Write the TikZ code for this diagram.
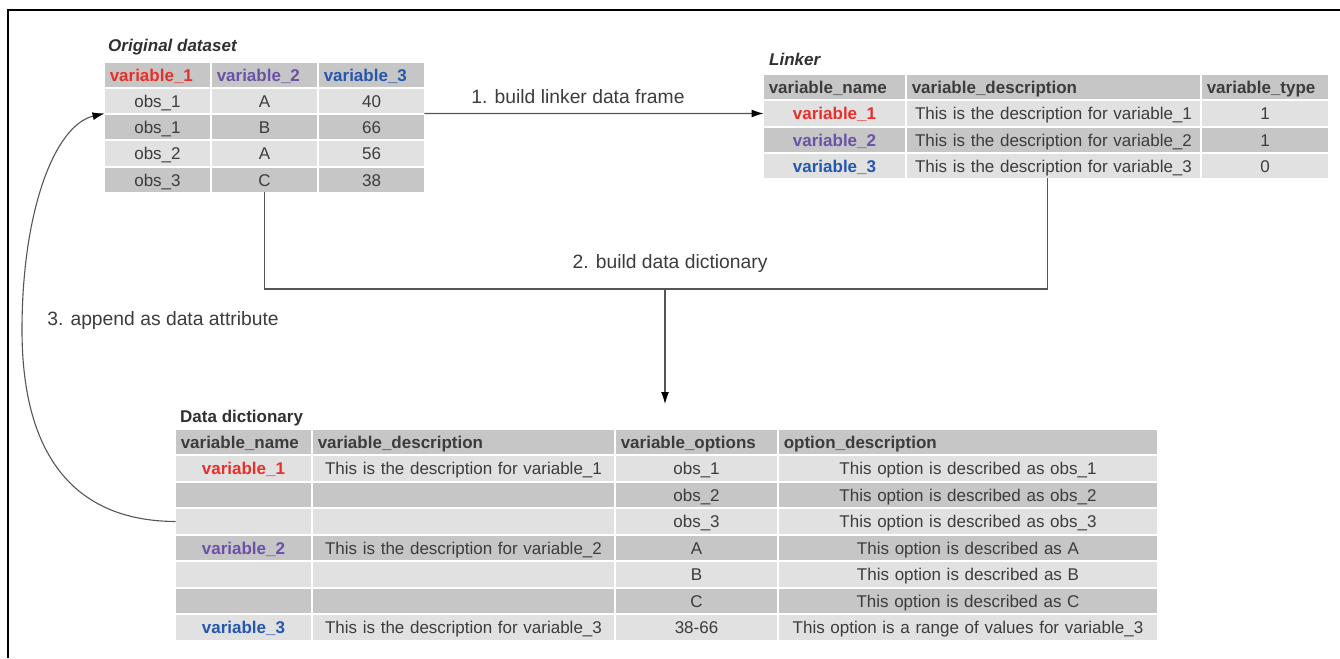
\documentclass[tikz,border=0pt]{standalone}
\usepackage{fontspec}
\setmainfont{Liberation Sans}
\usetikzlibrary{arrows.meta,calc}
\definecolor{lightc}{HTML}{E1E1E1}
\definecolor{darkc}{HTML}{C6C6C6}
\definecolor{txt}{HTML}{3C3C3C}
\definecolor{vone}{HTML}{E8302A}
\definecolor{vtwo}{HTML}{6B52A8}
\definecolor{vthree}{HTML}{2457AE}
\definecolor{linec}{HTML}{555555}
\newcommand\tc[8]{\pgfmathsetmacro\tcw{#3-#2-11.5}\pgfmathsetmacro\tch{#5-#4-1.5}%
\node[tcell,fill=#6,align=#7,text width=\tcw pt,minimum height=\tch pt] (#1) at ({(#2+#3)/2},{(#4+#5)/2}) {#8};}
\newcommand\hb[1]{\bfseries #1}
\begin{document}
\begin{tikzpicture}[x=1pt,y=-1pt,
  tcell/.style={inner xsep=5pt,inner ysep=0pt,font=\fontsize{17}{20}\selectfont,text=txt,text height=12.2pt,text depth=0pt},
  ttl/.style={inner sep=0pt,anchor=base west,font=\fontsize{17}{20}\selectfont\bfseries,text=txt!80!black},
  lbl/.style={inner sep=0pt,anchor=base,font=\fontsize{19.3}{22}\selectfont,text=txt},
  conn/.style={draw=linec,line width=1.1pt},
  arr/.style={conn,-{Latex[length=12pt,width=8pt,black]}}]
\useasboundingbox (0,0) rectangle (1340,658);
\draw[line width=2pt] (8,658) -- (8,10) -- (1340,10);

% Original dataset
\node[ttl] (Ot) at (108,52) {\itshape Original dataset};
\tc{O-0-1}{104}{211}{62}{88}{darkc}{left}{\hb{\color{vone}variable\_1}}
\tc{O-0-2}{211}{318}{62}{88}{darkc}{left}{\hb{\color{vtwo}variable\_2}}
\tc{O-0-3}{318}{425}{62}{88}{darkc}{left}{\hb{\color{vthree}variable\_3}}
\tc{O-1-1}{104}{211}{88}{114}{lightc}{center}{obs\_1}
\tc{O-1-2}{211}{318}{88}{114}{lightc}{center}{A}
\tc{O-1-3}{318}{425}{88}{114}{lightc}{center}{40}
\tc{O-2-1}{104}{211}{114}{140}{darkc}{center}{obs\_1}
\tc{O-2-2}{211}{318}{114}{140}{darkc}{center}{B}
\tc{O-2-3}{318}{425}{114}{140}{darkc}{center}{66}
\tc{O-3-1}{104}{211}{140}{167}{lightc}{center}{obs\_2}
\tc{O-3-2}{211}{318}{140}{167}{lightc}{center}{A}
\tc{O-3-3}{318}{425}{140}{167}{lightc}{center}{56}
\tc{O-4-1}{104}{211}{167}{193}{darkc}{center}{obs\_3}
\tc{O-4-2}{211}{318}{167}{193}{darkc}{center}{C}
\tc{O-4-3}{318}{425}{167}{193}{darkc}{center}{38}

% Linker
\node[ttl] (Lt) at (769,66) {\itshape Linker};
\tc{L-0-1}{763}{906}{74}{100}{darkc}{left}{\hb{variable\_name}}
\tc{L-0-2}{906}{1201}{74}{100}{darkc}{left}{\hb{variable\_description}}
\tc{L-0-3}{1201}{1329}{74}{100}{darkc}{left}{\hb{variable\_type}}
\tc{L-1-1}{763}{906}{100}{127}{lightc}{center}{\hb{\color{vone}variable\_1}}
\tc{L-1-2}{906}{1201}{100}{127}{lightc}{center}{This is the description for variable\_1}
\tc{L-1-3}{1201}{1329}{100}{127}{lightc}{center}{1}
\tc{L-2-1}{763}{906}{127}{153}{darkc}{center}{\hb{\color{vtwo}variable\_2}}
\tc{L-2-2}{906}{1201}{127}{153}{darkc}{center}{This is the description for variable\_2}
\tc{L-2-3}{1201}{1329}{127}{153}{darkc}{center}{1}
\tc{L-3-1}{763}{906}{153}{179}{lightc}{center}{\hb{\color{vthree}variable\_3}}
\tc{L-3-2}{906}{1201}{153}{179}{lightc}{center}{This is the description for variable\_3}
\tc{L-3-3}{1201}{1329}{153}{179}{lightc}{center}{0}

% Data dictionary
\node[ttl] (Dt) at (180,422) {Data dictionary};
\tc{D-0-1}{175}{312}{429}{455}{darkc}{left}{\hb{variable\_name}}
\tc{D-0-2}{312}{615}{429}{455}{darkc}{left}{\hb{variable\_description}}
\tc{D-0-3}{615}{778}{429}{455}{darkc}{left}{\hb{variable\_options}}
\tc{D-0-4}{778}{1158}{429}{455}{darkc}{left}{\hb{option\_description}}
\tc{D-1-1}{175}{312}{455}{482}{lightc}{center}{\hb{\color{vone}variable\_1}}
\tc{D-1-2}{312}{615}{455}{482}{lightc}{center}{This is the description for variable\_1}
\tc{D-1-3}{615}{778}{455}{482}{lightc}{center}{obs\_1}
\tc{D-1-4}{778}{1158}{455}{482}{lightc}{center}{This option is described as obs\_1}
\tc{D-2-1}{175}{312}{482}{508}{darkc}{center}{}
\tc{D-2-2}{312}{615}{482}{508}{darkc}{center}{}
\tc{D-2-3}{615}{778}{482}{508}{darkc}{center}{obs\_2}
\tc{D-2-4}{778}{1158}{482}{508}{darkc}{center}{This option is described as obs\_2}
\tc{D-3-1}{175}{312}{508}{535}{lightc}{center}{}
\tc{D-3-2}{312}{615}{508}{535}{lightc}{center}{}
\tc{D-3-3}{615}{778}{508}{535}{lightc}{center}{obs\_3}
\tc{D-3-4}{778}{1158}{508}{535}{lightc}{center}{This option is described as obs\_3}
\tc{D-4-1}{175}{312}{535}{561}{darkc}{center}{\hb{\color{vtwo}variable\_2}}
\tc{D-4-2}{312}{615}{535}{561}{darkc}{center}{This is the description for variable\_2}
\tc{D-4-3}{615}{778}{535}{561}{darkc}{center}{A}
\tc{D-4-4}{778}{1158}{535}{561}{darkc}{center}{This option is described as A}
\tc{D-5-1}{175}{312}{561}{588}{lightc}{center}{}
\tc{D-5-2}{312}{615}{561}{588}{lightc}{center}{}
\tc{D-5-3}{615}{778}{561}{588}{lightc}{center}{B}
\tc{D-5-4}{778}{1158}{561}{588}{lightc}{center}{This option is described as B}
\tc{D-6-1}{175}{312}{588}{614}{darkc}{center}{}
\tc{D-6-2}{312}{615}{588}{614}{darkc}{center}{}
\tc{D-6-3}{615}{778}{588}{614}{darkc}{center}{C}
\tc{D-6-4}{778}{1158}{588}{614}{darkc}{center}{This option is described as C}
\tc{D-7-1}{175}{312}{614}{641}{lightc}{center}{\hb{\color{vthree}variable\_3}}
\tc{D-7-2}{312}{615}{614}{641}{lightc}{center}{This is the description for variable\_3}
\tc{D-7-3}{615}{778}{614}{641}{lightc}{center}{38-66}
\tc{D-7-4}{778}{1158}{614}{641}{lightc}{center}{This option is a range of values for variable\_3}

% connectors
\draw[arr] (O-1-3.south east) -- (L-1-1.west);
\node[lbl] (l1) at (578,104) {1. build linker data frame};

\coordinate (j) at (665,289);
\coordinate (dd) at (665,404);
\draw[conn] (O-4-2.south) -- (O-4-2.south |- j) -- ([xshift=-6pt]L-3-2.south |- j) -- ([xshift=-6pt]L-3-2.south);
\draw[arr] (j) -- (dd);
\node[lbl] (l2) at (670,268) {2. build data dictionary};

\draw[arr] (D-3-1.west) .. controls (70,521) and (22,450) .. (22,330) .. controls (22,210) and (55,125) .. (O-1-1.south west);
\node[lbl] (l3) at (163,325) {3. append as data attribute};
\end{tikzpicture}
\end{document}
